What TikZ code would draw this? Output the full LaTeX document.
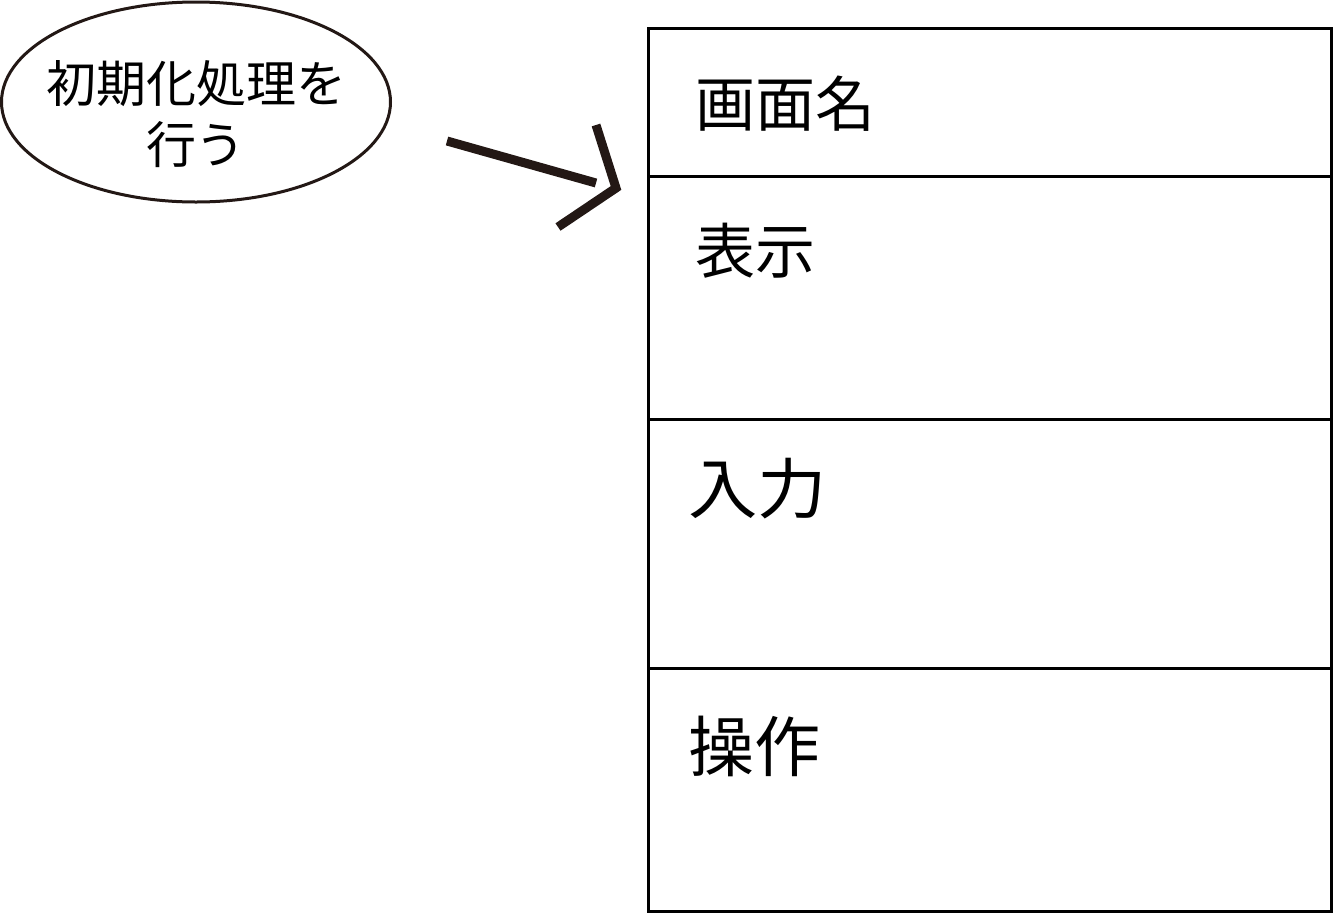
\documentclass[tikz,border=0pt]{standalone}
\usepackage{fontspec}
\usetikzlibrary{shapes.geometric}
\setmainfont{Noto Sans CJK JP}
\definecolor{ink}{HTML}{231815}
\begin{document}
\begin{tikzpicture}[x=1pt,y=-1pt,
  cell/.style={draw=black,line width=3pt},
  lbl/.style={anchor=west,inner sep=0pt,font=\fontsize{60}{62}\selectfont},
  biglbl/.style={anchor=west,inner sep=0pt,font=\fontsize{66}{68}\selectfont},
  oval/.style={draw=ink,line width=3pt,ellipse,minimum width=389pt,minimum height=200pt,inner sep=0pt},
  ovaltext/.style={inner sep=0pt,align=center,font=\fontsize{50}{61}\selectfont},
  arr/.style={draw=ink,line width=9pt}]
\useasboundingbox (0,0) rectangle (1334,914);
\node[oval] (e) at (196,102) {};
\node[ovaltext] (et) at (196,114) {初期化処理を\\行う};
\draw[cell] (648,28) rectangle (1331,911);
\draw[cell] (648,176) -- (1331,176);
\draw[cell] (648,419) -- (1331,419);
\draw[cell] (648,668) -- (1331,668);
\node[lbl] (t1) at (695,104) {画面名};
\node[lbl] (t2) at (695,251) {表示};
\node[biglbl,xscale=1.05] (t3) at (688,489) {入力};
\node[biglbl] (t4) at (688,746) {操作};
\coordinate (a0) at (447,141);
\coordinate (a1) at (596,183);
\coordinate (h0) at (596,125);
\coordinate (h1) at (616,188);
\coordinate (h2) at (558,227);
\draw[arr] (a0) -- (a1);
\draw[arr,line join=miter] (h0) -- (h1) -- (h2);
\end{tikzpicture}
\end{document}
